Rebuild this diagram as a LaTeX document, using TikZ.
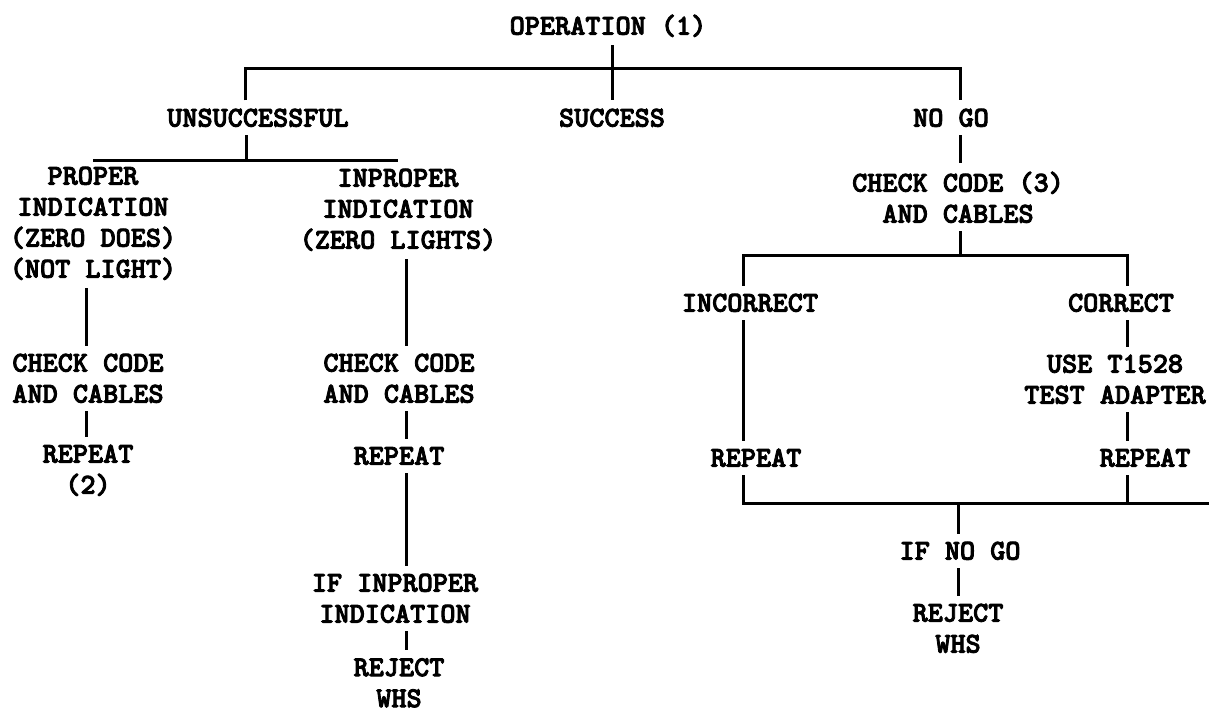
\documentclass[tikz,border=0pt]{standalone}
\usepackage{fontspec}
\newfontfamily\typefont{lmmonolt10-bold.otf}[FakeBold=3]

\begin{document}
\begin{tikzpicture}[
  x=1pt, y=-1pt,
  every node/.style={inner sep=0pt, anchor=north, align=center,
    font=\typefont\fontsize{28.8}{31}\selectfont},
  wire/.style={line width=3pt},
  gapboth/.style={shorten <=8pt, shorten >=8pt},
  gapfrom/.style={shorten <=8pt},
  gapto/.style={shorten >=8pt}
]
\useasboundingbox (0,0) rectangle (1209,711);

\node (op)     at (608,14.5)  {OPERATION (1)};
\node (uns)    at (258,108.5) {UNSUCCESSFUL};
\node (suc)    at (612,108.5) {SUCCESS};
\node (nogo)   at (951,108.5) {NO GO};
\node (prop)   at (93,166.5)  {PROPER\\INDICATION\\(ZERO DOES)\\(NOT LIGHT)};
\node (improp) at (398,168.5) {INPROPER\\INDICATION\\(ZERO LIGHTS)};
\node (chkA)   at (88,353.5)  {CHECK CODE\\AND CABLES};
\node (repA)   at (88,444.5)  {REPEAT\\(2)};
\node (chkB)   at (399,353.5) {CHECK CODE\\AND CABLES};
\node (repB)   at (399,446.5) {REPEAT};
\node (ifimp)  at (395,573.5) {IF INPROPER\\INDICATION};
\node (rejA)   at (399,658)   {REJECT\\WHS};
\node (chkC)   at (958,171.5) {CHECK CODE (3)\\AND CABLES};
\node (incor)  at (750,293.5) {INCORRECT};
\node (cor)    at (1121,293.5) {CORRECT};
\node (use)    at (1115,354.5) {USE T1528\\TEST ADAPTER};
\node (repC)   at (756,448.5) {REPEAT};
\node (repD)   at (1145,448.5) {REPEAT};
\node (ifno)   at (960,541.5) {IF NO GO};
\node (rejB)   at (958,603.5) {REJECT\\WHS};

\coordinate (cU)  at (245,0);
\coordinate (tb)  at (612,69);
\coordinate (lb)  at (246,161);
\coordinate (cA)  at (86,0);
\coordinate (cB)  at (406,0);
\coordinate (cC)  at (960,0);
\coordinate (rb)  at (960,256);
\coordinate (cD)  at (743,0);
\coordinate (cE)  at (1127,0);
\coordinate (bb)  at (958,503);
\coordinate (bbr) at (1209,503);

\draw[wire, gapboth] (op.south -| suc.north) -- (suc.north);
\draw[wire, gapboth] (uns.north -| cU) |- (tb) -| (nogo.north -| cC);
\draw[wire, gapfrom] (uns.south -| lb) -- (lb);
\draw[wire] (prop.north |- lb) -- (improp.north |- lb);
\draw[wire, gapboth] (prop.south -| cA) -- (chkA.north -| cA);
\draw[wire, gapboth] (chkA.south -| cA) -- (repA.north -| cA);
\draw[wire, gapboth] (improp.south -| cB) -- (chkB.north -| cB);
\draw[wire, gapboth] (chkB.south -| cB) -- (repB.north -| cB);
\draw[wire, gapboth] (repB.south -| cB) -- (ifimp.north -| cB);
\draw[wire, gapboth] (ifimp.south -| cB) -- (rejA.north -| cB);
\draw[wire, gapboth] (nogo.south -| cC) -- (chkC.north -| cC);
\draw[wire, gapfrom] (chkC.south -| rb) -- (rb);
\draw[wire, gapboth] (incor.north -| cD) |- (rb) -| (cor.north -| cE);
\draw[wire, gapboth] (incor.south -| cD) -- (repC.north -| cD);
\draw[wire, gapboth] (cor.south -| cE) -- (use.north -| cE);
\draw[wire, gapboth] (use.south -| cE) -- (repD.north -| cE);
\draw[wire, gapfrom] (repC.south -| cD) |- (bbr);
\draw[wire, gapfrom] (repD.south -| cE) -- (bbr -| cE);
\draw[wire, gapto] (bb) -- (ifno.north -| bb);
\draw[wire, gapboth] (ifno.south -| bb) -- (rejB.north -| bb);
\end{tikzpicture}
\end{document}
